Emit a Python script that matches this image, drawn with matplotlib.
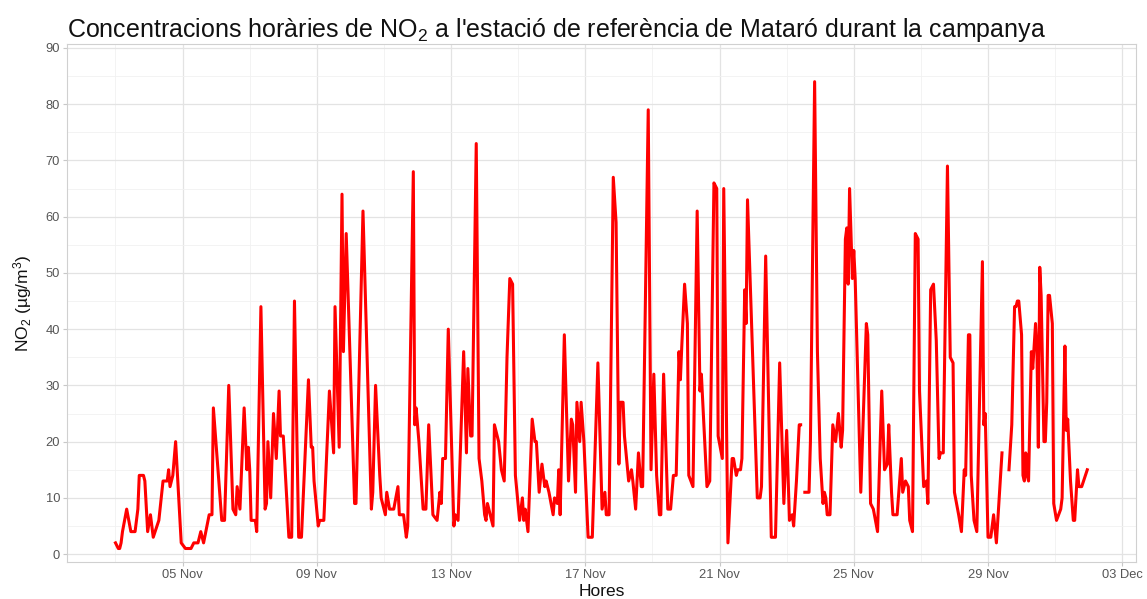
import numpy as np
import pandas as pd
import matplotlib
matplotlib.use("Agg")
import matplotlib.pyplot as plt
import matplotlib.dates as mdates

plt.rcParams["font.family"] = ["Liberation Sans", "DejaVu Sans"]
plt.rcParams["mathtext.fontset"] = "custom"
plt.rcParams["mathtext.rm"] = "Liberation Sans"
plt.rcParams["mathtext.it"] = "Liberation Sans:italic"

# ── dades: hores des de l'inici de la campanya i concentració de NO2 (µg/m3) ──
INICI = pd.Timestamp("2021-11-03 00:00")

hores = [
    0, 2, 3, 4, 5, 8, 11, 14, 16, 17, 20, 21, 23, 25, 27, 31, 34, 37, 38, 39,
    41, 43, 47, 50, 54, 56, 59, 61, 63, 67, 69, 70, 76, 78, 81, 84, 86, 87, 89, 92,
    94, 95, 96, 97, 100, 101, 104, 107, 108, 109, 111, 113, 115, 117, 118, 120, 124, 126, 128, 131,
    133, 138, 140, 141, 142, 145, 146, 149, 153, 156, 157, 160, 162, 163, 165, 171, 172, 177, 183, 184,
    186, 189, 190, 193, 194, 196, 199, 202, 203, 206, 208, 209, 213, 214, 215, 217, 220, 222, 224, 227,
    230, 232, 233, 234, 236, 238, 242, 243, 245, 249, 251, 252, 254, 255, 258, 260, 262, 264, 265, 266,
    270, 271, 274, 276, 278, 280, 282, 284, 286, 289, 291, 292, 293, 295, 298, 300, 301, 303, 305, 307,
    308, 310, 313, 314, 316, 317, 318, 321, 324, 326, 327, 329, 330, 332, 333, 335, 338, 341, 345, 348,
    350, 351, 353, 356, 358, 360, 361, 363, 364, 367, 369, 370, 372, 374, 376, 377, 381, 383, 385, 387,
    389, 390, 392, 395, 397, 399, 401, 403, 404, 405, 407, 409, 410, 413, 416, 418, 419, 423, 425, 428,
    430, 431, 434, 435, 438, 441, 442, 444, 445, 447, 448, 450, 451, 452, 454, 459, 461, 462, 465, 469,
    472, 475, 478, 480, 482, 484, 485, 487, 489, 490, 491, 493, 496, 497, 500, 502, 504, 506, 507, 508,
    509, 511, 513, 515, 517, 519, 520, 522, 523, 524, 525, 527, 528, 529, 533, 537, 538, 540, 542, 545,
    548, 550, 552, 553, 555, 556, 559, 562, 563, 565, 567, 568, 570, 572, 574, 575, 578, 580, 581, 583,
    585, 587, 589, 590, 592, 595, 597, 599, 600, 603, 605, 607, 608, 610, 611, 612, 614, 616, 620, 621,
    622, 624, 626, 628, 630, 634, 636, 639, 641, 643, 644, 645, 646, 648, 649, 650, 651, 652, 653, 655,
    656, 658, 659, 660, 661, 662, 664, 665, 666, 667, 668, 670, 671, 673, 676, 677, 679, 680, 681, 683,
    685, 686, 688, 689, 691, 695,
]

no2 = [
    2, 1, 1, 2, 4, 8, 4, 4, 8, 14, 14, 13, 4, 7, 3, 6, 13, 13, 15, 12,
    14, 20, 2, 1, 1, 2, 2, 4, 2, 7, 7, 26, 6, 6, 30, 8, 7, 12, 8, 26,
    15, 19, 15, 6, 6, 4, 44, 8, 9, 20, 10, 25, 17, 29, 21, 21, 3, 3, 45, 3,
    3, 31, 19, 19, 13, 5, 6, 6, 29, 18, 44, 19, 64, 36, 57, 9, 9, 61, 8, 11,
    30, 14, 10, 7, 11, 8, 8, 12, 7, 7, 3, 5, 68, 23, 26, 20, 8, 8, 23, 7,
    6, 11, 9, 17, 17, 40, 5, 7, 6, 36, 18, 33, 21, 21, 73, 17, 13, 7, 6, 9,
    5, 23, 20, 15, 13, 35, 49, 48, 14, 6, 10, 6, 8, 4, 24, 20, 20, 11, 16, 12,
    13, 11, 7, 10, 9, 15, 7, 39, 13, 24, 23, 11, 27, 20, 27, 20, 3, 3, 34, 8,
    11, 7, 7, 67, 59, 16, 27, 27, 21, 13, 15, 13, 8, 18, 12, 12, 79, 15, 32, 14,
    7, 7, 32, 8, 8, 14, 14, 36, 31, 37, 48, 41, 14, 12, 61, 29, 32, 12, 13, 66,
    65, 21, 17, 65, 2, 17, 17, 14, 15, 15, 17, 47, 41, 63, 48, 10, 10, 12, 53, 3,
    3, 34, 9, 22, 6, 7, 5, 13, 23, 23, np.nan, 11, 11, 20, 84, 36, 17, 9, 11, 10,
    7, 7, 23, 20, 25, 19, 22, 56, 58, 48, 65, 49, 54, 49, 11, 41, 39, 9, 8, 4,
    29, 15, 16, 23, 11, 7, 7, 17, 11, 13, 12, 6, 4, 57, 56, 29, 12, 13, 9, 47,
    48, 38, 17, 18, 18, 69, 35, 34, 11, 7, 4, 15, 14, 39, 39, 14, 6, 4, 52, 23,
    25, 3, 3, 7, 2, 18, np.nan, 15, 23, 44, 44, 45, 45, 39, 14, 13, 18, 14, 13, 36,
    33, 41, 36, 19, 51, 46, 20, 20, 27, 46, 46, 41, 9, 6, 8, 10, 37, 22, 24, 13,
    6, 6, 15, 12, 12, 15,
]

dates = INICI + pd.to_timedelta(hores, unit="h")

# ── figura ───────────────────────────────────────────────────────────────────
fig = plt.figure(figsize=(11.47, 5.99), dpi=100)
ax = fig.add_axes([67 / 1147, 1 - 562 / 599, (1136 - 67) / 1147, (562 - 44) / 599])

ax.plot(dates, no2, color="#FF0000", lw=2.2, solid_joinstyle="round")

x0 = mdates.date2num(INICI)
ax.set_xlim(x0 - 1.445, x0 + 30.41)
ax.set_ylim(-1.4, 90.7)

# etiquetes cada 4 dies (05 Nov ... 03 Dec), línies menors entremig
ticks = [INICI + pd.Timedelta(days=d) for d in (2, 6, 10, 14, 18, 22, 26, 30)]
ax.set_xticks(ticks)
ax.set_xticklabels([t.strftime("%d %b") for t in ticks])
ax.set_xticks([INICI + pd.Timedelta(days=d) for d in (0, 4, 8, 12, 16, 20, 24, 28)], minor=True)

ax.set_yticks(np.arange(0, 91, 10))
ax.set_yticks(np.arange(5, 90, 10), minor=True)

ax.grid(which="major", color="#E3E3E3", lw=0.9)
ax.grid(which="minor", color="#F1F1F1", lw=0.6)
ax.set_axisbelow(True)

for s in ax.spines.values():
    s.set_color("#D0D0D0")
    s.set_linewidth(0.8)

ax.tick_params(which="major", length=3, width=0.8, color="#C8C8C8",
               labelsize=9.3, labelcolor="#555555", pad=2)
ax.tick_params(which="minor", length=0)

ax.set_xlabel("Hores", fontsize=12.5, color="#111111", labelpad=2)
ax.set_ylabel("NO$_2$ (µg/m$^3$)", fontsize=12.5, color="#111111", labelpad=8)

fig.text(67 / 1147, 1 - 37 / 599,
         "Concentracions horàries de NO$_2$ a l'estació de referència de Mataró durant la campanya",
         fontsize=18, color="#111111", ha="left", va="baseline")

fig.savefig("out.png", dpi=100, facecolor="white")
